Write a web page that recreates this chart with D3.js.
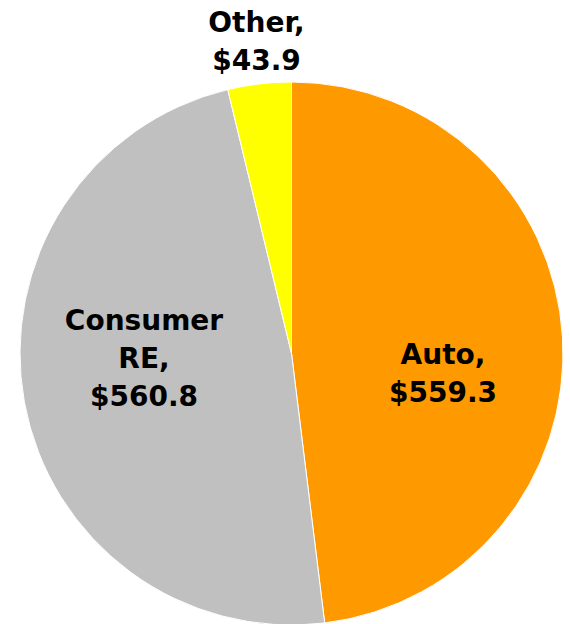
<!DOCTYPE html>
<html>
<head>
<meta charset="utf-8">
<script src="https://cdn.jsdelivr.net/npm/d3@7"></script>
<style>
  body { margin: 0; background: #fff; }
  text { font-family: "DejaVu Sans", Verdana, sans-serif; font-weight: bold; font-size: 28px; fill: #000; }
</style>
</head>
<body>
<div id="chart"></div>
<script>
// chart data
var categories = ["Auto", "Consumer RE", "Other"];
var values = [559.3, 560.8, 43.9];
var labelLines = [["Auto,", "$559.3"], ["Consumer", "RE,", "$560.8"], ["Other,", "$43.9"]];
var colors = ["#FF9900", "#C0C0C0", "#FFFF00"];

var width = 570, height = 624;
var cx = 291.5, cy = 353.5, radius = 271.5;

var svg = d3.select("#chart")
  .append("svg")
    .attr("width", width)
    .attr("height", height);

var g = svg.append("g")
  .attr("transform", "translate(" + cx + "," + cy + ")");

// pie layout, clockwise from 12 o'clock in data order
var pie = d3.pie().sort(null).value(function(d) { return d; });
var arcs = pie(values);

var arc = d3.arc().innerRadius(0).outerRadius(radius);

g.selectAll(".slice")
  .data(arcs)
  .enter().append("path")
    .attr("class", "slice")
    .attr("d", arc)
    .style("fill", function(d, i) { return colors[i]; })
    .style("stroke", "#fff")
    .style("stroke-width", 1);

// label placement (layout only), baseline of first line relative to pie centre
var labelPos = [
  {x: 151.5, y: 10},
  {x: -147.5, y: -23.5},
  {x: -35, y: -321.5}
];
var lineHeight = 38;

var labels = g.selectAll(".label")
  .data(arcs)
  .enter().append("text")
    .attr("class", "label")
    .attr("text-anchor", "middle")
    .attr("transform", function(d, i) {
      return "translate(" + labelPos[i].x + "," + labelPos[i].y + ")";
    });

labels.each(function(d, i) {
  var t = d3.select(this);
  labelLines[i].forEach(function(line, j) {
    t.append("tspan")
      .attr("x", 0)
      .attr("y", j * lineHeight)
      .text(line);
  });
});
</script>
</body>
</html>
